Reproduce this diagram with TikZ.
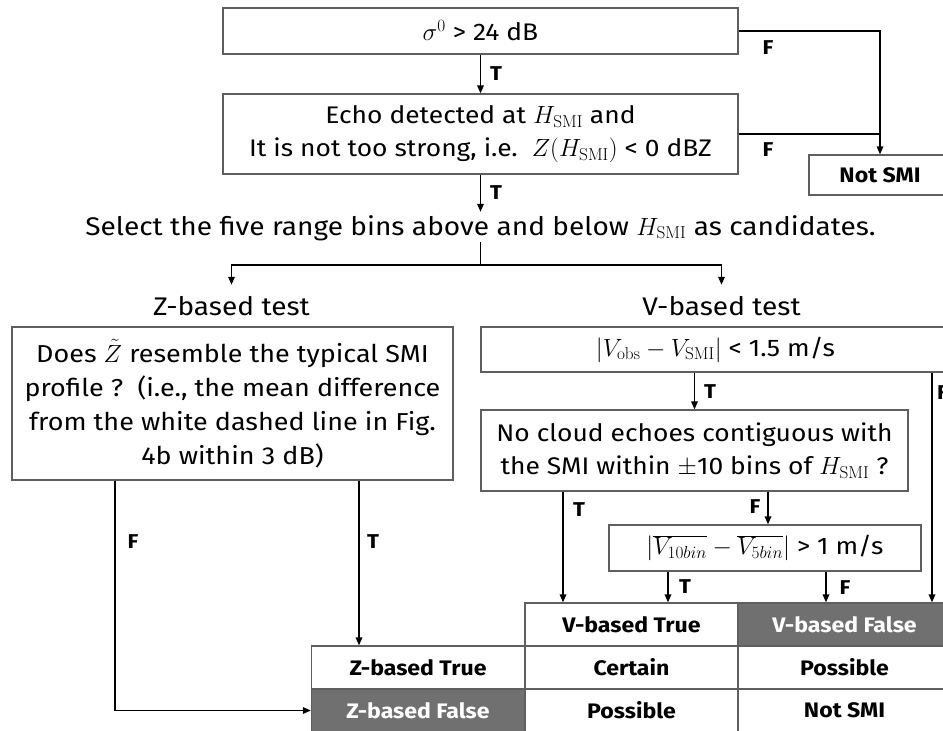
\documentclass[tikz,border=0pt]{standalone}
\usepackage[no-math]{fontspec}
\setmainfont{Fira Sans}[FakeStretch=1.1]
\usetikzlibrary{arrows.meta}
\definecolor{boxgray}{RGB}{95,95,95}
\definecolor{darkcell}{RGB}{112,112,112}
\begin{document}
\begin{tikzpicture}[x=1pt,y=-1pt,
  box/.style={draw=boxgray, line width=1.2pt, fill=white, align=center, inner sep=0pt, font=\fontsize{24}{33}\selectfont},
  txt/.style={inner xsep=0pt, inner ysep=5pt, text height=18pt, text depth=2pt, font=\fontsize{25.5}{33}\selectfont},
  conn/.style={line width=1.6pt},
  arr/.style={conn, -{Triangle[length=8pt,width=6.5pt]}},
  lbl/.style={font=\bfseries\fontsize{20}{24}\selectfont, inner sep=0pt},
  cell/.style={draw=boxgray, line width=1.2pt, fill=white, minimum width=213pt, minimum height=43pt, inner sep=0pt, font=\bfseries\fontsize{21}{25}\selectfont},
  dark/.style={cell, fill=darkcell, text=white}]
\useasboundingbox (0,0) rectangle (943,731);

% top boxes
\node[box, minimum width=515pt, minimum height=46pt] (b1) at (480.5,31) {$\sigma^0$ > 24 dB};
\node[box, minimum width=515pt, minimum height=80pt] (b2) at (480.5,134) {Echo detected at $H_{\mathrm{SMI}}$ and\\It is not too strong, i.e.\ \ $Z(H_{\mathrm{SMI}})$ < 0 dBZ};
\node[box, font=\bfseries\fontsize{21}{25}\selectfont, minimum width=142pt, minimum height=40pt] (ns) at (880,175) {Not SMI};

\node[txt] (sel) at (480.5,227) {Select the five range bins above and below $H_{\mathrm{SMI}}$ as candidates.};
\coordinate (branch) at (480.5,265);
\node[txt, inner ysep=12pt] (zt) at (231.5,307) {Z-based test};
\node[txt, inner ysep=12pt] (vt) at (721.5,307) {V-based test};

% test boxes
\node[box, font=\fontsize{24.5}{34}\selectfont, minimum width=441pt, minimum height=153pt] (zb) at (232.5,403.5) {Does $\tilde{Z}$ resemble the typical SMI\\profile ?\ \ (i.e., the mean difference\\from the white dashed line in Fig.\\4b within 3 dB)};
\node[box, minimum width=469pt, minimum height=45pt] (vb) at (715.5,349.5) {$|V_{\mathrm{obs}}-V_{\mathrm{SMI}}|$ < 1.5 m/s};
\node[box, minimum width=427pt, minimum height=81pt] (nc) at (694.5,450.5) {No cloud echoes contiguous with\\the SMI within $\pm$10 bins of $H_{\mathrm{SMI}}$ ?};
\node[box, minimum width=312pt, minimum height=46pt] (vd) at (765,548) {$|\overline{V_{10bin}}-\overline{V_{5bin}}|$ > 1 m/s};

% table
\node[cell] (c2h) at (631.5,624.5) {V-based True};
\node[dark] (c3h) at (844.5,624.5) {V-based False};
\node[cell] (c1r2) at (418,667.5) {Z-based True};
\node[cell] (c2r2) at (631.5,667.5) {Certain};
\node[cell] (c3r2) at (844.5,667.5) {Possible};
\node[dark] (c1r3) at (418,710.5) {Z-based False};
\node[cell] (c2r3) at (631.5,710.5) {Possible};
\node[cell] (c3r3) at (844.5,710.5) {Not SMI};

% connectors top
\draw[arr] (b1.south) -- (b2.north);
\node[lbl] at (496,74) {T};
\draw[arr] (b1.east) -| (ns.north);
\draw[conn] (b2.east) -- (b2.east -| ns.north);
\node[lbl] at (768,48) {F};
\node[lbl] at (768,150) {F};
\draw[arr] (b2.south) -- (sel.north);
\node[lbl] at (496,193) {T};
\draw[conn] (sel.south) -- (branch);
\draw[arr] (branch) -| (zt.north);
\draw[arr] (branch) -| (vt.north);

% V-based
\draw[arr] (nc.north |- vb.south) -- (nc.north);
\node[lbl] at (710,392) {T};
\coordinate (fr) at (932,372);
\draw[arr] (vb.south -| fr) -- (c3h.north -| fr);
\node[lbl, anchor=west] at (937,393) {F};
\coordinate (ncT) at (563,0);
\draw[arr] (nc.south -| ncT) -- (c2h.north -| ncT);
\node[lbl] at (579,510) {T};
\coordinate (ncF) at (768,0);
\draw[arr] (nc.south -| ncF) -- (vd.north -| ncF);
\node[lbl] at (755,507) {F};
\coordinate (vdT) at (668,0);
\draw[arr] (vd.south -| vdT) -- (c2h.north -| vdT);
\node[lbl] at (685,587) {T};
\coordinate (vdF) at (826,0);
\draw[arr] (vd.south -| vdF) -- (c3h.north -| vdF);
\node[lbl] at (845,588) {F};

% Z-based
\coordinate (zT) at (359,0);
\draw[arr] (zb.south -| zT) -- (c1r2.north -| zT);
\node[lbl] at (373,542) {T};
\coordinate (zF) at (115,0);
\draw[arr] (zb.south -| zF) |- (c1r3.west);
\node[lbl] at (133,542) {F};
\end{tikzpicture}
\end{document}
